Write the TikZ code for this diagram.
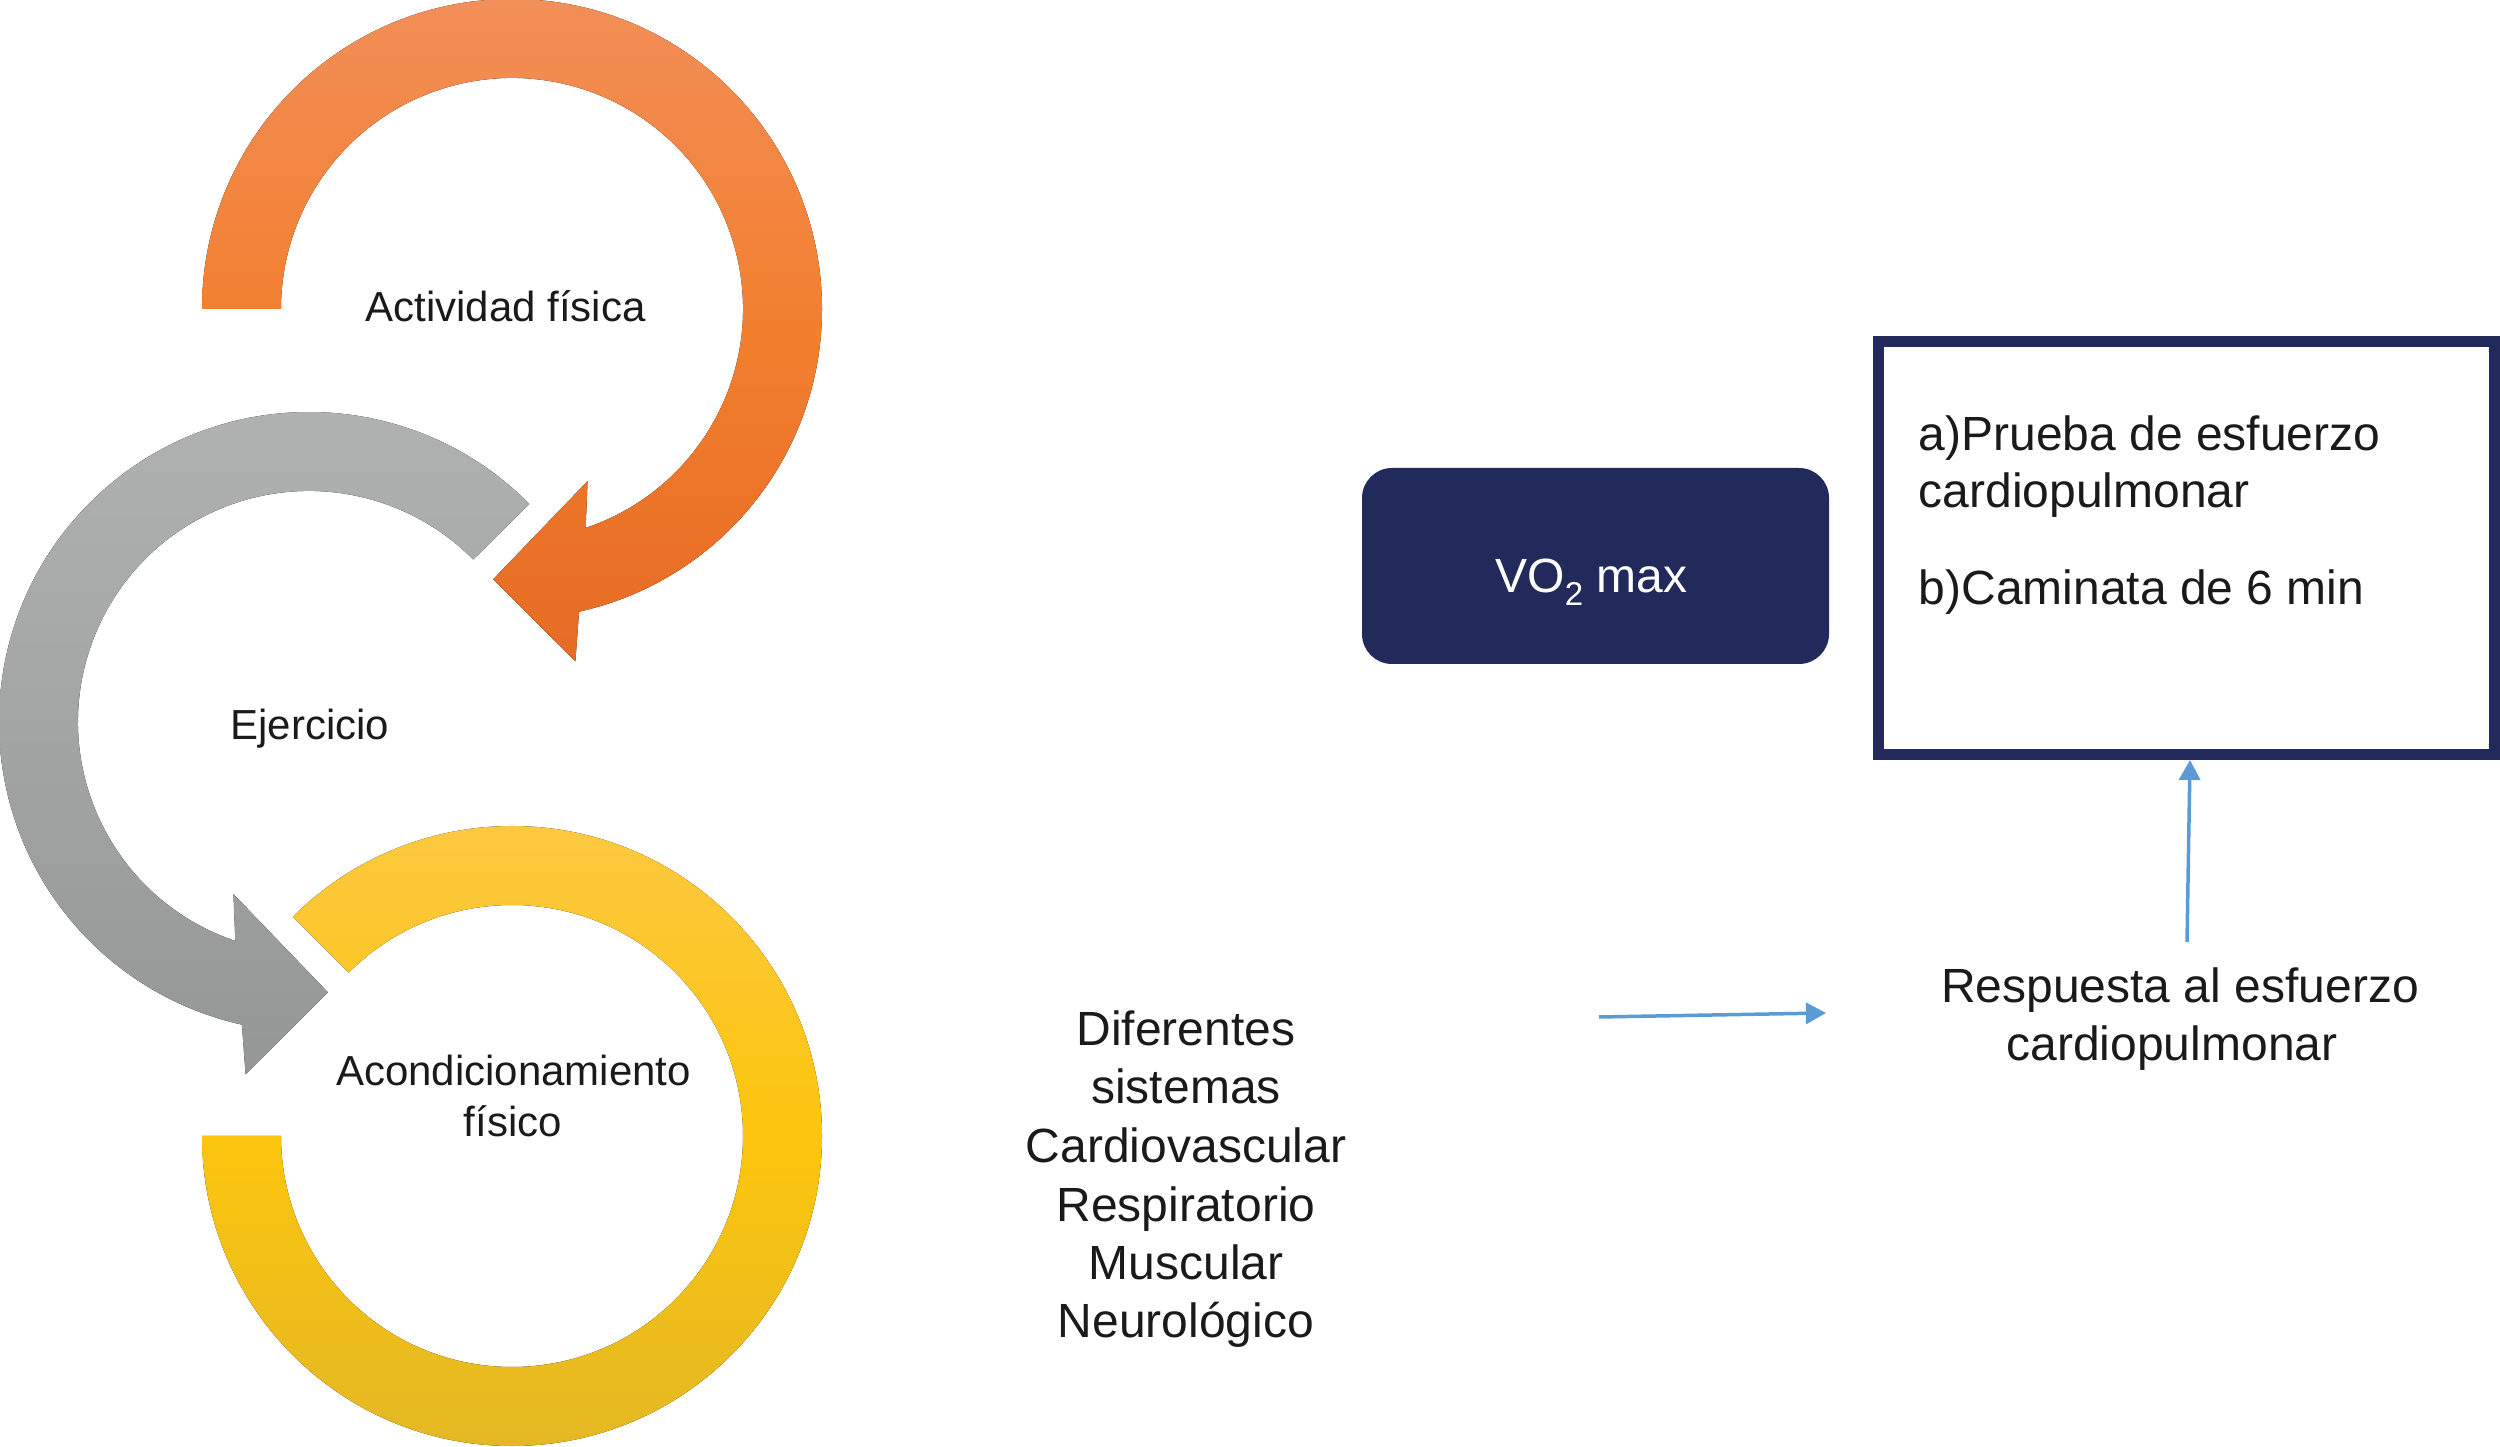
\documentclass[tikz,border=0pt]{standalone}
\usepackage{fontspec}
\setmainfont{Liberation Sans}
\usetikzlibrary{calc,arrows.meta}
\definecolor{navy}{HTML}{212A5B}
\definecolor{arrblue}{HTML}{5B9BD5}
\definecolor{txt}{HTML}{1A1A1A}
\definecolor{orTop}{HTML}{F28E58}
\definecolor{orMid}{HTML}{F27F2E}
\definecolor{orBot}{HTML}{E66A24}
\definecolor{grTop}{HTML}{B1B2B2}
\definecolor{grBot}{HTML}{959696}
\definecolor{yeTop}{HTML}{FCC840}
\definecolor{yeMid}{HTML}{FCC50D}
\definecolor{yeBot}{HTML}{E4B824}
\begin{document}
\begin{tikzpicture}[
  lbl/.style={inner sep=0pt, anchor=base, text=txt, font=\fontsize{11.95pt}{14.3pt}\selectfont},
  big/.style={inner sep=0pt, anchor=base, text=txt, font=\fontsize{13.66pt}{16.4pt}\selectfont},
  conn/.style={draw=arrblue, line width=0.035cm, -{Triangle[length=0.20cm,width=0.21cm]}},
]
\useasboundingbox (0,0) rectangle (25,14.46);
\coordinate (O) at (5.12,11.37);
\coordinate (G) at (3.09,7.24);
\coordinate (Y) at (5.12,3.10);

% orange circular arrow
\fill[top color=orTop, bottom color=orBot, middle color=orMid]
  ($(O)+(180:3.10)$) arc[start angle=180, end angle=-77.5, radius=3.10]
  -- ($(O)+(-79.8:3.58)$) -- ($(O)+(-94:2.71)$) -- ($(O)+(-66.3:1.88)$)
  -- ($(O)+(-71.4:2.31)$) arc[start angle=-71.4, end angle=180, radius=2.31] -- cycle;

% gray circular arrow
\fill[top color=grTop, bottom color=grBot]
  ($(G)+(44.7:3.10)$) arc[start angle=44.7, end angle=257.5, radius=3.10]
  -- ($(G)+(259.8:3.58)$) -- ($(G)+(274:2.71)$) -- ($(G)+(246.3:1.88)$)
  -- ($(G)+(251.4:2.31)$) arc[start angle=251.4, end angle=44.7, radius=2.31] -- cycle;

% yellow ring
\fill[top color=yeTop, bottom color=yeBot, middle color=yeMid]
  ($(Y)+(180:3.10)$) arc[start angle=180, end angle=495, radius=3.10]
  -- ($(Y)+(135:2.31)$) arc[start angle=135, end angle=-180, radius=2.31] -- cycle;

% left labels
\node[lbl] (act) at (5.055,11.24) {Actividad física};
\node[lbl] (ej) at (3.10,7.06) {Ejercicio};
\node[lbl] (ac1) at (5.136,3.60) {Acondicionamiento};
\node[lbl] (ac2) at (5.13,3.09) {físico};

% VO2 max box
\node[fill=navy, rounded corners=0.30cm, minimum width=4.67cm, minimum height=1.96cm,
      inner sep=0pt, text=white, font=\fontsize{13.66pt}{16.4pt}\selectfont,
      text height=0.54cm, text depth=0pt] (vo) at (15.955,8.80)
      {VO\raisebox{-0.13cm}{\fontsize{9.4pt}{11pt}\selectfont 2} max\kern0.08cm};

% tests box
\node[draw=navy, line width=0.11cm, minimum width=6.16cm, minimum height=4.13cm, inner sep=0pt] (tests) at (21.865,8.98) {};
\node[big, anchor=base west] (ta1) at (19.18,9.95) {a)Prueba de esfuerzo};
\node[big, anchor=base west] (ta2) at (19.18,9.38) {cardiopulmonar};
\node[big, anchor=base west] (tb) at (19.18,8.41) {b)Caminata de 6 min};

% response text
\node[big] (r1) at (21.80,4.43) {Respuesta al esfuerzo};
\node[big] (r2) at (21.72,3.85) {cardiopulmonar};

% systems text
\node[big] (d1) at (11.86,4.00) {Diferentes};
\node[big] (d2) at (11.86,3.42) {sistemas};
\node[big] (d3) at (11.86,2.83) {Cardiovascular};
\node[big] (d4) at (11.86,2.25) {Respiratorio};
\node[big] (d5) at (11.86,1.67) {Muscular};
\node[big] (d6) at (11.86,1.09) {Neurológico};

% connectors
\coordinate (hs) at (15.99,4.29);
\coordinate (he) at (18.26,4.33);
\draw[conn] (hs) -- (he);
\coordinate (vs) at (21.87,5.04);
\coordinate (ve) at (21.90,0);
\draw[conn] (vs) -- (ve |- tests.south);
\end{tikzpicture}
\end{document}
